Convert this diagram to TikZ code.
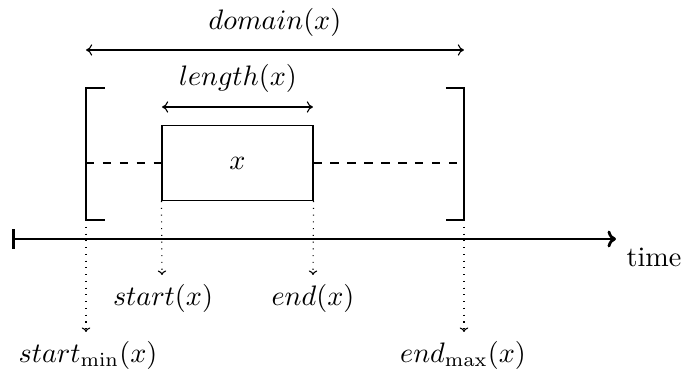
\documentclass[tikz,border=0pt]{standalone}
\usetikzlibrary{arrows.meta}
\begin{document}
\begin{tikzpicture}[x=0.355pt,y=-0.355pt,
  bracket/.style={line width=1pt},
  dim/.style={line width=0.4pt,{To[length=2.2pt,width=4pt]}-{To[length=2.2pt,width=4pt]}},
  proj/.style={line width=0.4pt,dotted,-{To[length=1.6pt,width=3pt,line width=0.4pt]}},
  lbl/.style={inner sep=0pt}]
\useasboundingbox (0,0) rectangle (683,374);
% box
\node[draw,line width=0.4pt,minimum width=53.6pt,minimum height=26.6pt,inner sep=0pt] (x) at (237.5,163) {$x$};
% brackets
\coordinate (ltt) at (105,88); \coordinate (lt) at (86,88);
\coordinate (lb) at (86,220); \coordinate (lbt) at (105,220);
\coordinate (rtt) at (446,88); \coordinate (rt) at (464,88);
\coordinate (rb) at (464,220); \coordinate (rbt) at (446,220);
\coordinate (lm) at (86,163); \coordinate (rm) at (464,163);
\draw[bracket] (ltt) -- (lt) -- (lb) -- (lbt);
\draw[bracket] (rtt) -- (rt) -- (rb) -- (rbt);
\draw[dashed,line width=0.4pt] (lm) -- (x.west);
\draw[dashed,line width=0.4pt] (x.east) -- (rm);
% domain
\coordinate (d1) at (86,50); \coordinate (d2) at (464,50);
\draw[dim] (d1) -- (d2);
\node[lbl] (dom) at (275,22) {$domain(x)$};
% length
\coordinate (l1) at (162,107); \coordinate (l2) at (313,107);
\draw[dim] (l1) -- (l2);
\node[lbl] (len) at (238,78) {$length(x)$};
% axis
\coordinate (a0) at (12,239); \coordinate (a1) at (616,239);
\draw[line width=1pt,{Bar[width=7pt]}-{To[length=3pt,width=6pt]}] (a0) -- (a1);
\node[lbl,anchor=base] (time) at (654,267) {time};
% projections
\coordinate (p1) at (86,332); \coordinate (p2) at (162,275);
\coordinate (p3) at (313,275); \coordinate (p4) at (464,332);
\draw[proj] (lb) -- (p1);
\draw[proj] (x.south west) -- (p2);
\draw[proj] (x.south east) -- (p3);
\draw[proj] (rb) -- (p4);
\node[lbl] (s) at (163,298) {$start(x)$};
\node[lbl] (e) at (313,298) {$end(x)$};
\node[lbl] (smin) at (88,355) {$start_{\min}(x)$};
\node[lbl] (emax) at (463,355) {$end_{\max}(x)$};
\end{tikzpicture}
\end{document}
